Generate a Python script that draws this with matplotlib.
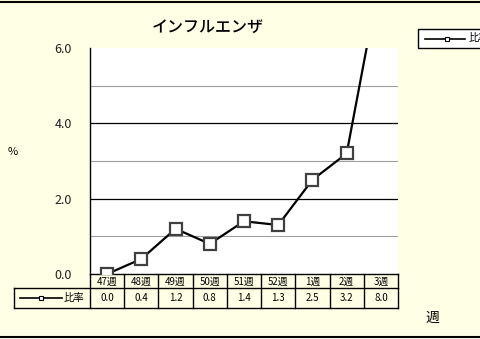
import matplotlib.pyplot as plt
from matplotlib.lines import Line2D
from matplotlib.patches import Rectangle

weeks = ["47週", "48週", "49週", "50週", "51週", "52週", "1週", "2週", "3週"]
rates = [0.0, 0.4, 1.2, 0.8, 1.4, 1.3, 2.5, 3.2, 8.0]
rate_labels = ["0.0", "0.4", "1.2", "0.8", "1.4", "1.3", "2.5", "3.2", "8.0"]
major_ticks = [0.0, 2.0, 4.0, 6.0]
minor_ticks = [1.0, 3.0, 5.0]

plt.rcParams['font.family'] = ['Noto Sans CJK JP', 'DejaVu Sans']

W, H = 480, 339
bg = '#FFFFE6'
fig = plt.figure(figsize=(W / 100, H / 100), dpi=100)
fig.patch.set_facecolor(bg)


def fx(px):
    return px / W


def fy(py):
    return 1 - py / H


def hline(x0, x1, y, **kw):
    fig.add_artist(Line2D([fx(x0), fx(x1)], [fy(y), fy(y)], transform=fig.transFigure,
                          color='black', linewidth=kw.get('lw', 1.0)))


def vline(x, y0, y1):
    fig.add_artist(Line2D([fx(x), fx(x)], [fy(y0), fy(y1)], transform=fig.transFigure,
                          color='black', linewidth=1.0))


# 外枠
hline(0, W, 1.5, lw=1.5)
hline(0, W, 337, lw=1.5)

# プロット領域
L, R, T, B = 90, 398, 48, 274
ax = fig.add_axes([fx(L), fy(B), fx(R) - fx(L), fy(T) - fy(B)])
ax.set_facecolor('white')
ax.set_xlim(-0.5, len(weeks) - 0.5)
ax.set_ylim(0, 6.0)
for v in minor_ticks:
    ax.axhline(v, color='#A0A0A0', linewidth=0.8, zorder=1)
for v in major_ticks[1:-1]:
    ax.axhline(v, color='black', linewidth=0.9, zorder=1)
ax.plot(range(len(weeks)), rates, color='black', linewidth=1.6, marker='s',
        markersize=9, markerfacecolor='white', markeredgecolor='#404040',
        markeredgewidth=1.6, zorder=3, clip_on=True)
ax.set_xticks([])
ax.set_yticks(major_ticks)
ax.set_yticklabels([f"{v:.1f}" for v in major_ticks], fontsize=9, color='#202020')
ax.tick_params(axis='y', length=0, pad=13)
for s in ['top', 'right']:
    ax.spines[s].set_visible(False)
for s in ['left', 'bottom']:
    ax.spines[s].set_linewidth(1.0)

fig.text(fx(208), fy(27), "インフルエンザ", ha='center', va='center', fontsize=11.5,
         fontweight='medium')
fig.text(fx(13), fy(152), "%", ha='center', va='center', fontsize=8)
fig.text(fx(432), fy(318), "週", ha='center', va='center', fontsize=10)

# データテーブル
col_w = (R - L) / len(weeks)
hline(14, R, 288)
hline(14, R, 308)
vline(14, 288, 308)
for k in range(len(weeks) + 1):
    vline(L + k * col_w, 274, 308)
for i, (w, lab) in enumerate(zip(weeks, rate_labels)):
    cx = L + (i + 0.5) * col_w
    fig.text(fx(cx), fy(281.5), w, ha='center', va='center', fontsize=7)
    fig.text(fx(cx), fy(298), lab, ha='center', va='center', fontsize=7)
fig.add_artist(Line2D([fx(20), fx(62)], [fy(298), fy(298)], transform=fig.transFigure,
                      color='black', linewidth=1.2))
fig.add_artist(Line2D([fx(41)], [fy(298)], transform=fig.transFigure, marker='s',
                      markersize=3.5, markerfacecolor='white', markeredgecolor='black',
                      markeredgewidth=0.8, linestyle='none'))
fig.text(fx(64), fy(298), "比率", ha='left', va='center', fontsize=7.5)

# 凡例（右上、はみ出し）
fig.add_artist(Rectangle((fx(418), fy(48)), fx(80), fy(29) - fy(48),
                         transform=fig.transFigure, facecolor='white',
                         edgecolor='black', linewidth=1.0))
fig.add_artist(Line2D([fx(425), fx(465)], [fy(38.5), fy(38.5)], transform=fig.transFigure,
                      color='black', linewidth=1.2))
fig.add_artist(Line2D([fx(447)], [fy(38.5)], transform=fig.transFigure, marker='s',
                      markersize=3.5, markerfacecolor='white', markeredgecolor='black',
                      markeredgewidth=0.8, linestyle='none'))
fig.text(fx(469), fy(38.5), "比率", ha='left', va='center', fontsize=7.5)

fig.savefig("out.png", dpi=100, facecolor=bg)
